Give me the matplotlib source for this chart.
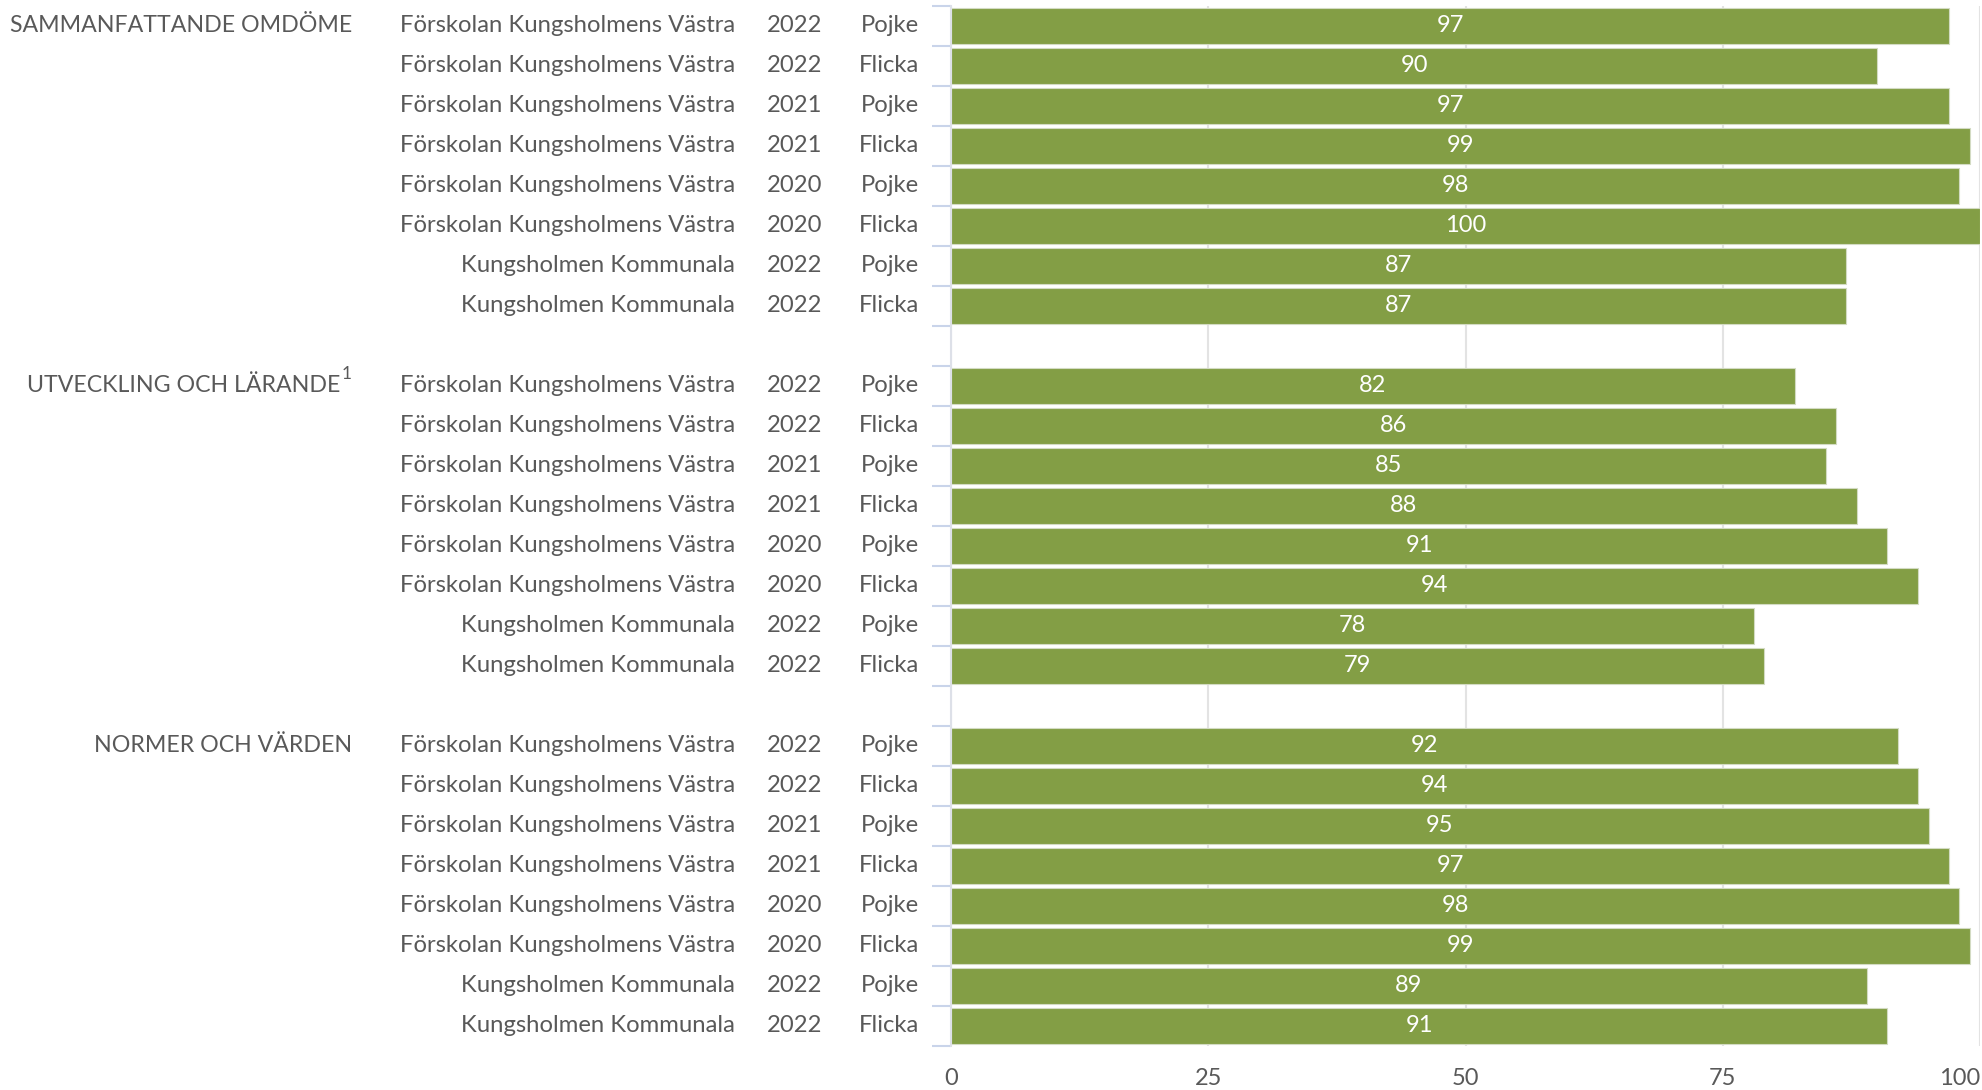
import matplotlib
matplotlib.use("Agg")
import matplotlib.pyplot as plt
from matplotlib.transforms import blended_transform_factory
import numpy as np

groups = ["SAMMANFATTANDE OMDÖME", "UTVECKLING OCH LÄRANDE", "NORMER OCH VÄRDEN"]
group_notes = ["", "1", ""]
schools = ["Förskolan Kungsholmens Västra"] * 6 + ["Kungsholmen Kommunala"] * 2
years = ["2022", "2022", "2021", "2021", "2020", "2020", "2022", "2022"]
genders = ["Pojke", "Flicka", "Pojke", "Flicka", "Pojke", "Flicka", "Pojke", "Flicka"]
values = [
    [97, 90, 97, 99, 98, 100, 87, 87],
    [82, 86, 85, 88, 91, 94, 78, 79],
    [92, 94, 95, 97, 98, 99, 89, 91],
]
xticks = [0, 25, 50, 75, 100]

W, H = 1983, 1090
fig = plt.figure(figsize=(W / 100, H / 100), dpi=100)
ax = fig.add_axes([951 / W, 1 - 1046 / H, (1980 - 951) / W, 1040 / H])

FONT = "Lato"
TXT = "#595959"
BAR = "#839e45"
FS = 17.2

n_per = len(schools)
rows_total = len(groups) * (n_per + 1) - 1

ax.set_axisbelow(True)
for g, vals in enumerate(values):
    ypos = np.arange(n_per) + g * (n_per + 1)
    ax.barh(ypos, vals, height=0.9, color=BAR, edgecolor="#d3dbc3", linewidth=0.8, zorder=2)
    for y, v in zip(ypos, vals):
        ax.text(v / 2, y, f"{v}", ha="center", va="center", color="white",
                fontsize=17, family=FONT, zorder=3)

trans = blended_transform_factory(fig.transFigure, ax.transData)
for g in range(len(groups)):
    base = g * (n_per + 1)
    for i in range(n_per):
        y = base + i
        ax.text(735 / W, y, schools[i], transform=trans, ha="right", va="center",
                color=TXT, fontsize=FS, family=FONT)
        ax.text(822 / W, y, years[i], transform=trans, ha="right", va="center",
                color=TXT, fontsize=FS, family=FONT)
        ax.text(919 / W, y, genders[i], transform=trans, ha="right", va="center",
                color=TXT, fontsize=FS, family=FONT)
    if group_notes[g]:
        ax.text(340 / W, base, groups[g], transform=trans, ha="right", va="center",
                color=TXT, fontsize=16.7, family=FONT)
        ax.text(352 / W, base - 0.3, group_notes[g], transform=trans, ha="right",
                va="center", color=TXT, fontsize=12.5, family=FONT)
    else:
        ax.text(352 / W, base, groups[g], transform=trans, ha="right", va="center",
                color=TXT, fontsize=16.7, family=FONT)

ax.set_xlim(0, 100)
ax.set_ylim(rows_total - 0.5, -0.5)
ax.set_xticks(xticks)
ax.set_xticklabels([str(t) for t in xticks], fontsize=17, family=FONT, color=TXT)
ax.get_xticklabels()[-1].set_ha("right")
ax.tick_params(axis="x", length=0, pad=16)
ax.set_yticks(np.arange(-0.5, rows_total, 1.0))
ax.set_yticklabels([])
ax.tick_params(axis="y", length=14, width=1.5, color="#c9d4ea", direction="out")
ax.grid(axis="x", color="#e3e3e3", linewidth=1.5, zorder=0)
ax.grid(axis="y", visible=False)
for s in ["top", "right", "bottom"]:
    ax.spines[s].set_visible(False)
ax.spines["left"].set_color("#dde0e8")
ax.spines["left"].set_linewidth(1.5)

fig.savefig("out.png", dpi=100)
